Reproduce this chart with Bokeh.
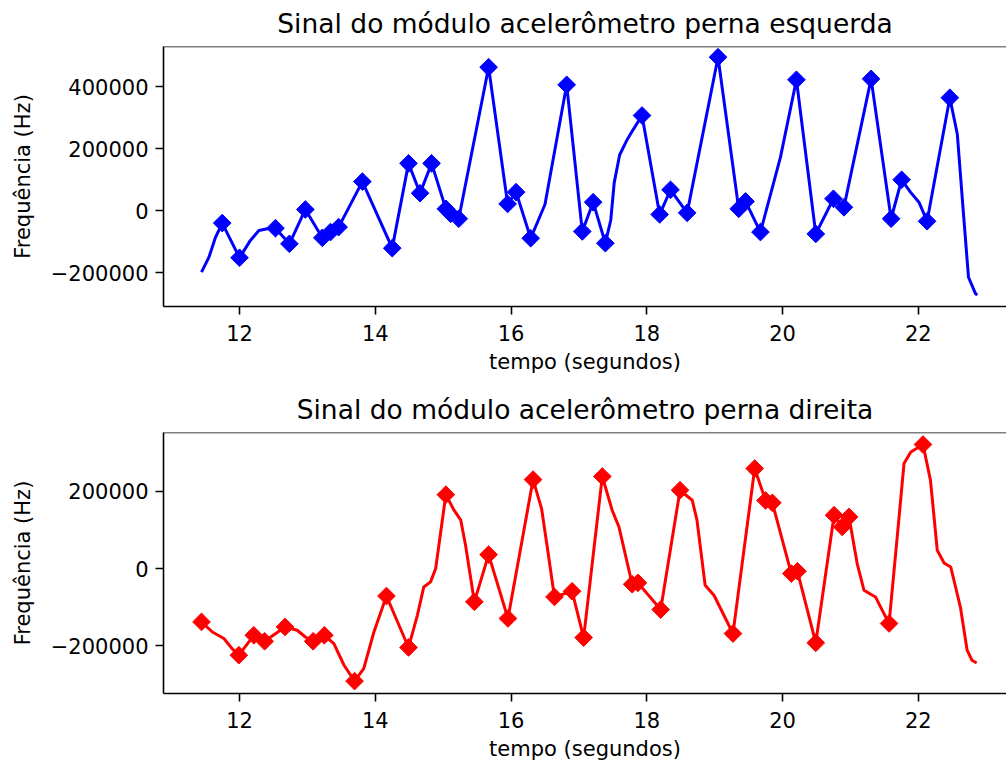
import numpy as np
from bokeh.plotting import figure
from bokeh.layouts import column
from bokeh.models import Range1d, FixedTicker, CustomJSTickFormatter, Span
from bokeh.embed import file_html
from bokeh.resources import INLINE

# ---------------- data ----------------
title_left = "Sinal do módulo acelerômetro perna esquerda"
title_right = "Sinal do módulo acelerômetro perna direita"
x_label = "tempo (segundos)"
y_label = "Frequência (Hz)"
x_ticks = [12, 14, 16, 18, 20, 22]
left_y_ticks = [-200000, 0, 200000, 400000]
right_y_ticks = [-200000, 0, 200000]

# left leg: detected peaks/valleys (diamond markers)
left_peak_t = [11.745, 12.00, 12.53, 12.735, 12.97, 13.22, 13.34, 13.46, 13.81, 14.25,
               14.49, 14.66, 14.83, 15.04, 15.11, 15.23, 15.67, 15.95, 16.075, 16.29,
               16.82, 17.05, 17.21, 17.39, 17.93, 18.19, 18.35, 18.595, 19.05, 19.355,
               19.455, 19.675, 20.205, 20.49, 20.75, 20.905, 21.305, 21.60, 21.755, 22.13,
               22.465]
left_peak_v = [-40000, -152000, -56500, -107000, 4000, -87600, -69000, -53000, 94000, -121000,
               153000, 56500, 153000, 6000, -10000, -26000, 463600, 22000, 60000, -89000,
               406700, -67000, 27500, -105000, 307600, -12000, 67500, -7000, 496000, 6000,
               30000, -69000, 423000, -75000, 38500, 11000, 426000, -26000, 100000, -34000,
               365000]
# left leg: other points along the signal curve
left_curve_t = [11.44, 11.55, 11.646, 12.16, 12.285, 12.41, 16.50, 17.47, 17.52, 17.60,
                17.70, 17.80, 19.97, 21.885, 22.01, 22.575, 22.67, 22.74, 22.845, 22.87]
left_curve_v = [-198700, -150000, -86000, -96000, -64000, -58500, 20000, -30000, 90000, 180000,
                225000, 262000, 173000, 60000, 27500, 248000, -21000, -215000, -268500, -272000]

# right leg: detected peaks/valleys (diamond markers)
right_peak_t = [11.44, 11.99, 12.21, 12.37, 12.67, 13.085, 13.25, 13.695, 14.165, 14.49,
                15.04, 15.46, 15.67, 15.955, 16.325, 16.64, 16.90, 17.07, 17.345, 17.785,
                17.87, 18.205, 18.49, 19.27, 19.59, 19.75, 19.85, 20.13, 20.22, 20.49,
                20.76, 20.88, 20.98, 21.57, 22.07]
right_peak_v = [-138000, -224000, -172500, -188000, -151000, -188000, -172500, -291000, -71000, -204000,
                191000, -86000, 36000, -129000, 230000, -73400, -58700, -178500, 238000, -40600,
                -37000, -106000, 202500, -168000, 258600, 176000, 170000, -13000, -7000, -192000,
                138000, 107600, 133500, -142000, 320600]
# right leg: other points along the signal curve
right_curve_t = [11.60, 11.77, 11.89, 12.85, 12.97, 13.39, 13.54, 13.83, 13.98, 14.62,
                 14.715, 14.815, 14.89, 15.16, 15.26, 15.33, 16.45, 16.53, 17.49, 17.59,
                 18.67, 18.74, 18.86, 18.99, 21.10, 21.20, 21.37, 21.47, 21.69, 21.79,
                 21.89, 22.18, 22.28, 22.38, 22.478, 22.62, 22.72, 22.79, 22.86]
right_curve_v = [-164000, -181000, -207000, -159500, -177000, -194000, -250000, -258600, -164000, -121000,
                 -47500, -34500, 0, 150800, 125000, 60000, 155000, 60000, 150800, 107600,
                 176600, 125000, -43200, -69000, 13000, -56000, -73400, -108000, 81700, 271500,
                 301500, 228000, 47300, 14500, 4000, -99000, -211000, -237000, -244000]

FONT = "DejaVu Sans"
X_RANGE = (10.88, 23.30)


def build(title, pt, pv, ct, cv, color, y_rng, yticks, height, b_top, b_bottom):
    p = figure(width=1006, height=height, output_backend="svg", toolbar_location=None,
               x_range=Range1d(*X_RANGE), y_range=Range1d(*y_rng),
               min_border_left=163, min_border_right=0,
               min_border_top=b_top, min_border_bottom=b_bottom,
               x_axis_label=x_label, y_axis_label=y_label)
    p.outline_line_color = None
    p.xgrid.visible = False
    p.ygrid.visible = False
    p.background_fill_color = "white"
    p.border_fill_color = "white"

    p.title.text = title
    p.title.text_font = FONT
    p.title.text_font_size = "26.5px"
    p.title.text_font_style = "normal"
    p.title.text_color = "black"
    p.title.align = "center"
    p.title.vertical_align = "top"
    p.title.offset = 4
    p.title.standoff = 12

    bottom = p.below[0]
    left = p.left[0]
    bottom.ticker = FixedTicker(ticks=x_ticks)
    left.ticker = FixedTicker(ticks=yticks)
    left.formatter = CustomJSTickFormatter(
        code='return (tick < 0 ? "\\u2212" : "") + Math.abs(tick).toFixed(0);')
    for ax in (bottom, left):
        ax.axis_line_width = 1.6
        ax.axis_line_color = "black"
        ax.major_tick_line_width = 1.6
        ax.major_tick_line_color = "black"
        ax.major_tick_out = 8
        ax.major_tick_in = 0
        ax.minor_tick_line_color = None
        ax.major_label_text_font = FONT
        ax.major_label_text_font_size = "21px"
        ax.major_label_text_color = "black"
        ax.axis_label_text_font = FONT
        ax.axis_label_text_font_size = "21px"
        ax.axis_label_text_font_style = "normal"
        ax.axis_label_text_color = "black"
    left.major_label_standoff = 7
    bottom.major_label_standoff = 10
    left.axis_label_standoff = 13
    bottom.axis_label_standoff = 6

    # top spine only (the right side is cut off in the reference)
    p.add_layout(Span(location=y_rng[1], dimension="width",
                      line_color="black", line_width=1.6))

    order = np.argsort(np.array(pt + ct))
    lt = np.array(pt + ct)[order]
    lv = np.array(pv + cv)[order]
    p.line(lt, lv, line_width=3.0, color=color, line_join="round")
    p.scatter(pt, pv, marker="square", angle=np.pi / 4, size=12.5, color=color)
    return p


p1 = build(title_left, left_peak_t, left_peak_v, left_curve_t, left_curve_v, "#0000ff",
           (-309500, 530500), left_y_ticks, 386, 46, 80)
p2 = build(title_right, right_peak_t, right_peak_v, right_curve_t, right_curve_v, "#ff0000",
           (-323000, 351700), right_y_ticks, 378, 46, 71)

layout = column(p1, p2)
with open("out.html", "w", encoding="utf-8") as f:
    f.write(file_html(layout, INLINE))
